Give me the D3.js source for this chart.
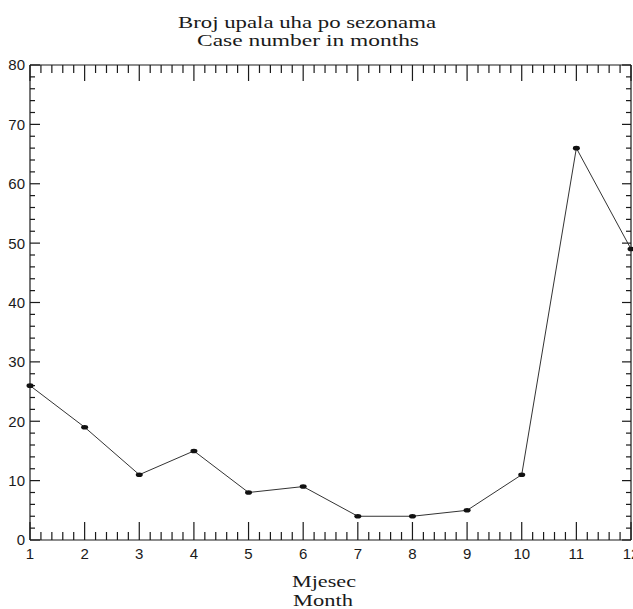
<!DOCTYPE html>
<html><head><meta charset="utf-8">
<script src="https://cdn.jsdelivr.net/npm/d3@7"></script>
<style>body{margin:0;background:#fff;overflow:hidden}svg{display:block}</style>
</head><body><svg id="c" width="633" height="609"></svg>
<script>
const months = [1,2,3,4,5,6,7,8,9,10,11,12];
const cases = [26,19,11,15,8,9,4,4,5,11,66,49];
const yTicks = [0,10,20,30,40,50,60,70,80];
const titleLines = ["Broj upala uha po sezonama","Case number in months"];
const xLabelLines = ["Mjesec","Month"];

const svg = d3.select("#c");
const x = d3.scaleLinear().domain([1,12]).range([30,631]);
const y = d3.scaleLinear().domain([0,80]).range([540,65]);
const ink = "#1a1a1a";

// frame lines
const g = svg.append("g").attr("stroke", ink).attr("stroke-width", 1.2).attr("fill","none");
g.append("line").attr("x1",x(1)).attr("x2",x(12)).attr("y1",y(0)).attr("y2",y(0));
g.append("line").attr("x1",x(1)).attr("x2",x(12)).attr("y1",y(80)).attr("y2",y(80));
g.append("line").attr("x1",x(1)).attr("x2",x(1)).attr("y1",y(0)).attr("y2",y(80));
g.append("line").attr("x1",x(12)).attr("x2",x(12)).attr("y1",y(0)).attr("y2",y(80));

// x ticks (every 0.2), bottom pointing up, top pointing down
const xMinor = d3.range(0, 56).map(i => 1 + i*0.2).filter(v => v <= 12.0001);
xMinor.forEach(v => {
  const major = Math.abs(v - Math.round(v)) < 1e-6;
  g.append("line").attr("x1",x(v)).attr("x2",x(v)).attr("y1",y(0)).attr("y2",y(0)-(major?18:8));
  g.append("line").attr("x1",x(v)).attr("x2",x(v)).attr("y1",y(80)).attr("y2",y(80)+(major?16:8));
});
// y ticks (every 2), left pointing right, right pointing left
d3.range(0, 82, 2).forEach(v => {
  const major = v % 10 === 0;
  g.append("line").attr("x1",x(1)).attr("x2",x(1)+(major?10:5)).attr("y1",y(v)).attr("y2",y(v));
  g.append("line").attr("x1",x(12)).attr("x2",x(12)-(major?9:5)).attr("y1",y(v)).attr("y2",y(v));
});

// tick labels
const sans = "Liberation Sans, Arial, sans-serif";
svg.append("g").selectAll("text").data(yTicks).join("text")
  .attr("x", 25).attr("y", d => y(d)).attr("dy","0.36em")
  .attr("text-anchor","end").attr("font-family",sans).attr("font-size",15).attr("fill",ink)
  .text(d => d);
svg.append("g").selectAll("text").data(months).join("text")
  .attr("x", d => x(d)).attr("y", 559)
  .attr("text-anchor","middle").attr("font-family",sans).attr("font-size",15).attr("fill",ink)
  .text(d => d);

// data line
svg.append("path").datum(months.map((m,i)=>[m,cases[i]]))
  .attr("fill","none").attr("stroke","#333").attr("stroke-width",1)
  .attr("d", d3.line().x(d=>x(d[0])).y(d=>y(d[1])));
svg.append("g").selectAll("ellipse").data(months.map((m,i)=>[m,cases[i]])).join("ellipse")
  .attr("cx", d=>x(d[0])).attr("cy", d=>y(d[1])).attr("rx",3.5).attr("ry",2.3).attr("fill","#111");

// titles
const serif = "Liberation Serif, Times New Roman, serif";
const tl = [[titleLines[0], 307, 28, 258],[titleLines[1], 308, 46, 222]];
tl.forEach(([t,cx,by,w]) => svg.append("text").attr("x",cx).attr("y",by).attr("text-anchor","middle")
  .attr("font-family",serif).attr("font-size",16).attr("fill",ink)
  .attr("textLength",w).attr("lengthAdjust","spacingAndGlyphs").text(t));
const xl = [[xLabelLines[0], 324, 587, 64],[xLabelLines[1], 323, 606, 60]];
xl.forEach(([t,cx,by,w]) => svg.append("text").attr("x",cx).attr("y",by).attr("text-anchor","middle")
  .attr("font-family",serif).attr("font-size",17).attr("fill",ink)
  .attr("textLength",w).attr("lengthAdjust","spacingAndGlyphs").text(t));
</script></body></html>
